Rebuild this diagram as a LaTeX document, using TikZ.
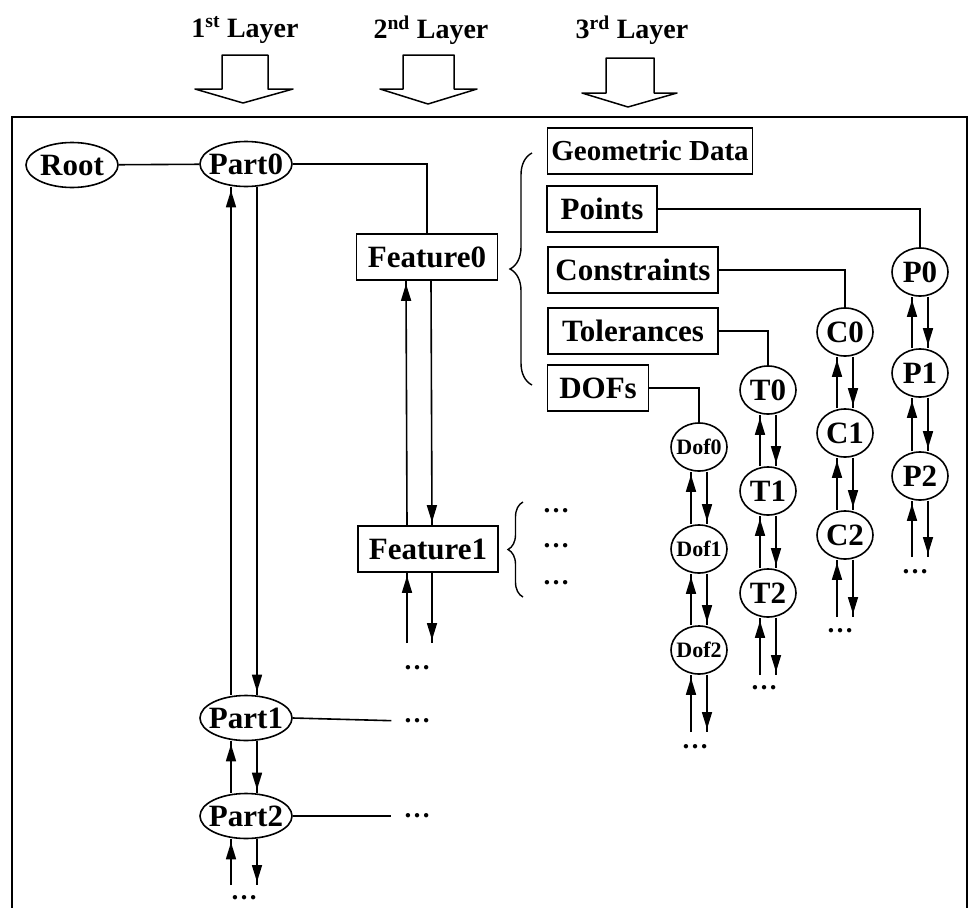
\documentclass[tikz,border=0pt]{standalone}
\usepackage{fontspec}
\setmainfont{Liberation Serif}
\usetikzlibrary{arrows.meta, shapes.geometric, decorations.markings, decorations.pathreplacing}

\tikzset{
  layertext/.style={font=\fontsize{28}{32}\selectfont\bfseries},
  layerarrow/.style={line width=1.5pt, line join=round},
  partnode/.style={ellipse, draw, line width=1.6pt, minimum width=92pt, minimum height=45pt, inner xsep=-6pt, inner ysep=0pt, font=\fontsize{31}{34}\selectfont\bfseries},
  itemnode/.style={ellipse, draw, line width=1.6pt, minimum width=56pt, minimum height=48pt, inner xsep=-4pt, inner ysep=0pt, font=\fontsize{31}{34}\selectfont\bfseries},
  dofnode/.style={itemnode, inner xsep=-5pt, font=\fontsize{22}{24}\selectfont\bfseries},
  boxnode/.style={rectangle, draw, line width=1.6pt, minimum height=46pt, inner sep=0pt, font=\fontsize{31}{34}\selectfont\bfseries},
  dotsnode/.style={inner sep=0pt, font=\fontsize{27}{30}\selectfont\bfseries},
  link/.style={line width=1.6pt},
  flowarr/.style={link, postaction={decorate}, decoration={markings, mark=at position -3pt with {\arrow{Triangle[length=17pt,width=10pt]}}}},
  bracket/.style={line width=1.4pt, decorate, decoration={brace, amplitude=#1}},
}

\begin{document}
\begin{tikzpicture}[x=1pt, y=-1pt]
    \useasboundingbox (0,0) rectangle (970,908);

    % frame and layer headers
    \draw[line width=2.5pt] (12,908) -- (12,117) -- (967,117) -- (967,908);
    \node[layertext] (L1) at (245,30) {1\textsuperscript{st} Layer};
    \node[layertext] (L2) at (431,30) {2\textsuperscript{nd} Layer};
    \node[layertext] (L3) at (632,30) {3\textsuperscript{rd} Layer};
    \draw[layerarrow] (222,55) -- (268,55) -- (268,89) -- (293,89) -- (243,103) -- (195,89) -- (222,89) -- cycle;
    \draw[layerarrow] (403,55) -- (454,55) -- (454,89) -- (477,89) -- (428,104) -- (380,89) -- (403,89) -- cycle;
    \draw[layerarrow] (606,58) -- (654,58) -- (654,93) -- (677,93) -- (628,107) -- (582,93) -- (606,93) -- cycle;

    % 1st layer
    \node[partnode] (Root) at (72,165) {Root};
    \node[partnode] (Part0) at (246,164) {Part0};
    \node[partnode] (Part1) at (246,718) {Part1};
    \node[partnode] (Part2) at (246,816) {Part2};
    \node[dotsnode] (Part1dots) at (417,721) {\dots};
    \node[dotsnode] (Part2dots) at (417,816) {\dots};
    \coordinate (Part2end) at (246,885);
    \node[dotsnode] (Partdots) at (244,898) {\dots};

    % 2nd layer
    \node[boxnode, minimum width=141pt] (Feature0) at (427,257) {Feature0};
    \node[boxnode, minimum width=140pt] (Feature1) at (428,549) {Feature1};
    \coordinate (Feature1end) at (428,643);
    \node[dotsnode] (Featuredots) at (417,668) {\dots};
    \node[dotsnode] (F1dotsA) at (556,511) {\dots};
    \node[dotsnode] (F1dotsB) at (556,546) {\dots};
    \node[dotsnode] (F1dotsC) at (556,583) {\dots};

    % 3rd layer
    \node[boxnode, minimum width=205pt, font=\fontsize{29}{32}\selectfont\bfseries] (Geometric) at (650,151) {Geometric Data};
    \node[boxnode, minimum width=110pt] (Points) at (602,209) {Points};
    \node[boxnode, minimum width=170pt] (Constraints) at (633,270) {Constraints};
    \node[boxnode, minimum width=170pt] (Tolerances) at (633,331) {Tolerances};
    \node[boxnode, minimum width=101pt] (DOFs) at (598,388) {DOFs};

    \node[itemnode] (P0) at (920,272) {P0};
    \node[itemnode] (P1) at (920,373) {P1};
    \node[itemnode] (P2) at (920,476) {P2};
    \coordinate (P2end) at (920,557);
    \node[dotsnode] (Pdots) at (915,572) {\dots};

    \node[itemnode] (C0) at (845,332) {C0};
    \node[itemnode] (C1) at (845,433) {C1};
    \node[itemnode] (C2) at (845,535) {C2};
    \coordinate (C2end) at (845,617);
    \node[dotsnode] (Cdots) at (840,631) {\dots};

    \node[itemnode] (T0) at (768,390) {T0};
    \node[itemnode] (T1) at (768,491) {T1};
    \node[itemnode] (T2) at (768,593) {T2};
    \coordinate (T2end) at (768,675);
    \node[dotsnode] (Tdots) at (764,688) {\dots};

    \node[dofnode] (Dof0) at (699,447) {Dof0};
    \node[dofnode] (Dof1) at (699,549) {Dof1};
    \node[dofnode] (Dof2) at (699,650) {Dof2};
    \coordinate (Dof2end) at (699,732);
    \node[dotsnode] (Dofdots) at (695,747) {\dots};

    % braces
    \draw[bracket=22pt] (532,385) -- (532,153);
    \draw[bracket=15pt] (523,597) -- (523,502);

    % plain links
    \draw[link] (Root) -- (Part0);
    \draw[link] (Part0.east) -| (Feature0.north);
    \draw[link, shorten >=12pt] (Part1.east) -- (Part1dots.west);
    \draw[link, shorten >=12pt] (Part2.east) -- (Part2dots.west);
    \draw[link] (Points.east) -| (P0.north);
    \draw[link] (Constraints.east) -| (C0.north);
    \draw[link] (Tolerances.east) -| (T0.north);
    \draw[link] (DOFs.east) -| (Dof0.north);

    % part chain
    \draw[flowarr] ([xshift=-15pt]Part1.north) -- ([xshift=-15pt]Part0.south);
    \draw[flowarr] ([xshift=11pt]Part0.south) -- ([xshift=11pt]Part1.north);
    \draw[flowarr] ([xshift=-15pt]Part2.north) -- ([xshift=-15pt]Part1.south);
    \draw[flowarr] ([xshift=11pt]Part1.south) -- ([xshift=11pt]Part2.north);
    \draw[flowarr] ([xshift=-15pt]Part2end) -- ([xshift=-15pt]Part2.south);
    \draw[flowarr] ([xshift=11pt]Part2.south) -- ([xshift=11pt]Part2end);

    % feature chain
    \draw[flowarr] ([xshift=-21pt]Feature1.north) -- ([xshift=-21pt]Feature0.south);
    \draw[flowarr] ([xshift=4pt]Feature0.south) -- ([xshift=4pt]Feature1.north);
    \draw[flowarr] ([xshift=-21pt]Feature1end) -- ([xshift=-21pt]Feature1.south);
    \draw[flowarr] ([xshift=4pt]Feature1.south) -- ([xshift=4pt]Feature1end);

    % item chains
    \foreach \a/\b in {P0/P1, P1/P2, C0/C1, C1/C2, T0/T1, T1/T2, Dof0/Dof1, Dof1/Dof2} {
        \draw[flowarr] ([xshift=-8pt]\b.north) -- ([xshift=-8pt]\a.south);
        \draw[flowarr] ([xshift=8pt]\a.south) -- ([xshift=8pt]\b.north);
    }
    \foreach \a/\b in {P2/P2end, C2/C2end, T2/T2end, Dof2/Dof2end} {
        \draw[flowarr] ([xshift=-8pt]\b) -- ([xshift=-8pt]\a.south);
        \draw[flowarr] ([xshift=8pt]\a.south) -- ([xshift=8pt]\b);
    }
\end{tikzpicture}
\end{document}
